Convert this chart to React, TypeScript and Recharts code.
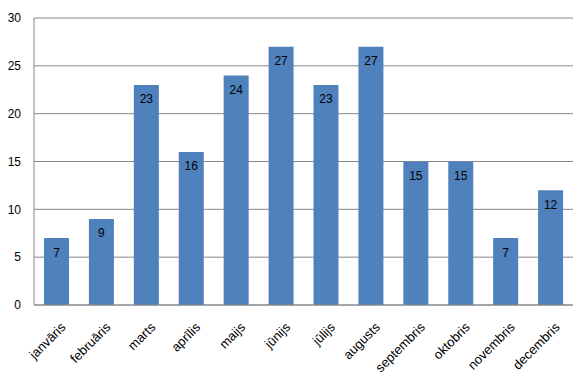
import { BarChart, Bar, XAxis, YAxis, CartesianGrid, LabelList } from 'recharts';

const months = [
  'janvāris', 'februāris', 'marts', 'aprīlis', 'maijs', 'jūnijs',
  'jūlijs', 'augusts', 'septembris', 'oktobris', 'novembris', 'decembris',
];
const counts = [7, 9, 23, 16, 24, 27, 23, 27, 15, 15, 7, 12];
const yTicks = [0, 5, 10, 15, 20, 25, 30];

const data = months.map((m, i) => ({ month: m, value: counts[i] }));

const font = "'Liberation Sans', Arial, sans-serif";

// rotated month label, end of the text sits just right of the bar centre
function MonthTick(props: any) {
  const { x, y, payload } = props;
  return (
    <g transform={`translate(${x + 10},${y + 15})`}>
      <text
        x={0}
        y={0}
        textAnchor="end"
        fontSize={13}
        fontFamily={font}
        fill="#000"
        transform="rotate(-45)"
      >
        {payload.value}
      </text>
    </g>
  );
}

export default function App() {
  return (
    <div style={{ position: 'absolute', left: 0, top: 0, background: '#fff' }}>
      <BarChart
        width={577}
        height={375}
        data={data}
        margin={{ top: 18, right: 4, left: 0, bottom: 0 }}
        barSize={25}
      >
        <CartesianGrid vertical={false} stroke="#888" />
        <XAxis
          dataKey="month"
          interval={0}
          height={70}
          tickLine={false}
          axisLine={{ stroke: '#888' }}
          tick={<MonthTick />}
        />
        <YAxis
          width={34}
          domain={[0, 30]}
          ticks={yTicks}
          tickLine={false}
          axisLine={{ stroke: '#888' }}
          tick={{ fontSize: 12, fontFamily: font, fill: '#000' }}
          tickMargin={7}
        />
        <Bar dataKey="value" fill="#4F81BD" isAnimationActive={false}>
          <LabelList
            dataKey="value"
            position="insideTop"
            offset={10}
            fill="#000"
            fontSize={12}
            fontFamily={font}
          />
        </Bar>
      </BarChart>
    </div>
  );
}
